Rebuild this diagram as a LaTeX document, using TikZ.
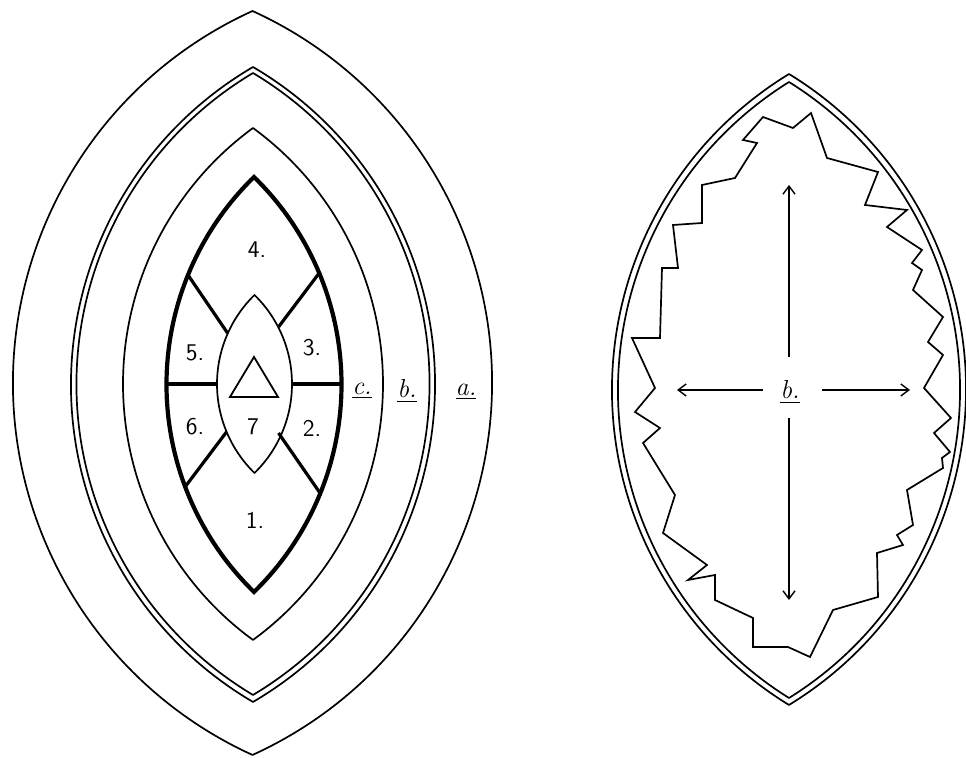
\documentclass[tikz,border=0pt]{standalone}
\usetikzlibrary{arrows.meta}
\newcommand{\vesica}[5][]{%
 \pgfmathsetmacro\vd{100*((#5/100)^2-(#4/100)^2)/(2*#4/100)}%
 \pgfmathsetmacro\vR{\vd+(#4)}%
 \pgfmathsetmacro\vt{atan2(#5,\vd)}%
 \begin{scope}[y=0.5pt]
 \draw[#1] (#2,-#3+#5) arc[start angle=180-\vt, end angle=180+\vt, radius=\vR] arc[start angle=-\vt, end angle=\vt, radius=\vR] -- cycle;
 \end{scope}}
\begin{document}
\begin{tikzpicture}[x=0.5pt,y=-0.5pt,
  thinline/.style={line width=0.85pt,line join=round},
  thickline/.style={line width=2.1pt,line join=miter},
  divider/.style={line width=1.6pt},
  num/.style={font=\sffamily\fontsize{12}{14}\selectfont,inner sep=0pt},
  lab/.style={font=\itshape\fontsize{13}{15}\selectfont,inner sep=0pt},
  arr/.style={-{Straight Barb[length=4pt,width=6pt]},line width=0.7pt}]
\fill[white] (0,0) rectangle (966,758);
\useasboundingbox (0,0) rectangle (966,758);
% left figure
\vesica[thinline]{252.5}{383}{239.5}{372}
\vesica[thinline]{253}{384.5}{182}{317.5}
\vesica[thinline]{253}{384}{176.5}{311}
\vesica[thinline]{253}{384}{130}{256}
\vesica[thickline]{254}{384.5}{87.5}{207.5}
\vesica[thinline]{254.5}{384}{37.5}{89}
% dividers
\draw[divider] (166.5,384) -- (217,384);
\draw[divider] (292,384) -- (341.5,384);
\draw[divider] (188,275) -- (227.5,333);
\draw[divider] (320,272) -- (278.5,327);
\draw[divider] (185,487) -- (226.5,432);
\draw[divider] (320,493) -- (278.5,433);
% triangle
\draw[line width=0.9pt,line join=miter] (254,357) -- (278,397) -- (230,397) -- cycle;
% numbers
\node[num] (n4) at (257,250) {4.};
\node[num] (n5) at (195,353) {5.};
\node[num] (n3) at (312,348) {3.};
\node[num] (n6) at (195,427) {6.};
\node[num] (n7) at (253,427) {7};
\node[num] (n2) at (312,428) {2.};
\node[num] (n1) at (255,520) {1.};
% ring labels
\node[lab] (lc) at (362,391) {\underline{c.}};
\node[lab] (lb) at (407,391) {\underline{b.}};
\node[lab] (la) at (466,392) {\underline{a.}};
% right figure
\vesica[thinline]{789}{389.5}{177}{315.5}
\vesica[thinline]{789}{390}{171}{308}
\draw[line width=0.85pt,line join=miter] (763,117) -- (793,128) -- (811,113) -- (827,158) -- (878,172) -- (865,205) -- (907,210) -- (887,227) -- (922,250) -- (912,263) -- (922,270) -- (913,290) -- (943,317) -- (928,342) -- (943,355) -- (924,388) -- (951,418) -- (934,433) -- (950,452) -- (942,458) -- (943,468) -- (907,490) -- (913,525) -- (897,535) -- (903,545) -- (877,553) -- (878,597) -- (833,610) -- (810,657) -- (788,647) -- (753,647) -- (753,618) -- (715,600) -- (715,575) -- (688,580) -- (707,565) -- (663,533) -- (675,495) -- (643,443) -- (660,428) -- (635,412) -- (655,388) -- (632,338) -- (660,338) -- (662,268) -- (678,268) -- (673,225) -- (702,223) -- (702,185) -- (735,178) -- (757,143) -- (743,140) -- cycle;
\node[lab] (rb) at (790,392) {\underline{b.}};
\coordinate (up0) at (789,357);
\coordinate (upT) at (789,185);
\coordinate (dn0) at (789,418);
\coordinate (dnT) at (789,600);
\coordinate (lf0) at (763,390);
\coordinate (lfT) at (677,390);
\coordinate (rt0) at (822,390);
\coordinate (rtT) at (910,390);
\draw[arr] (up0) -- (upT);
\draw[arr] (dn0) -- (dnT);
\draw[arr] (lf0) -- (lfT);
\draw[arr] (rt0) -- (rtT);
\end{tikzpicture}
\end{document}
